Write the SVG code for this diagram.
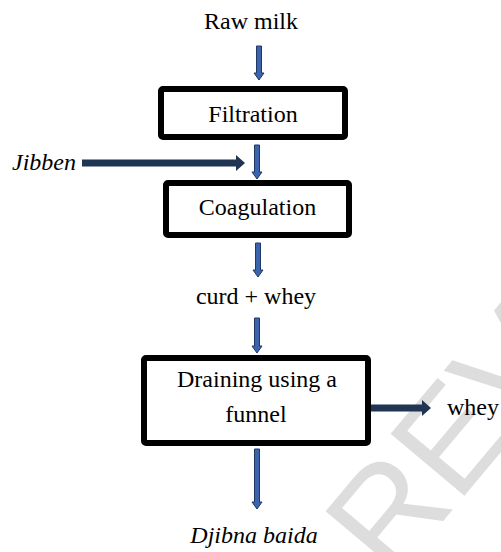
<svg xmlns="http://www.w3.org/2000/svg" width="501" height="552" viewBox="0 0 501 552">
<style>
.t{font-family:'Liberation Serif','Times New Roman','DejaVu Serif',serif;font-size:24px;fill:#000}
.i{font-style:italic}
.box{fill:#fff;stroke:#000;stroke-width:6}
.va{fill:#3b64ad;stroke:#1f3864;stroke-width:1}
.ha{fill:#1f3552}
.wm{font-family:'Liberation Sans',Arial,sans-serif;font-size:140px;fill:#dddddd}
</style>
<rect width="501" height="552" fill="#fff"/>
<text class="wm" transform="translate(392,582) rotate(-50)">REV</text>
<g id="raw-milk"><text class="t" x="251" y="29" text-anchor="middle">Raw milk</text></g>
<g id="filtration"><rect class="box" x="161" y="89" width="184" height="48" rx="2"/><text class="t" x="253" y="122" text-anchor="middle">Filtration</text></g>
<g id="jibben"><text class="t i" x="12" y="170">Jibben</text></g>
<g id="coagulation"><rect class="box" x="166" y="183" width="183" height="52" rx="2"/><text class="t" x="257.5" y="215" text-anchor="middle">Coagulation</text></g>
<g id="curd-whey"><text class="t" x="256" y="304" text-anchor="middle">curd + whey</text></g>
<g id="draining"><rect class="box" x="144" y="358" width="224" height="85" rx="2"/><text class="t" x="257" y="387" text-anchor="middle">Draining using a</text><text class="t" x="256" y="422" text-anchor="middle">funnel</text></g>
<g id="whey"><text class="t" x="447" y="415">whey</text></g>
<g id="djibna-baida"><text class="t i" x="254" y="543" text-anchor="middle">Djibna baida</text></g>
<g id="connectors">
<polygon class="va" points="256.5,46 261.5,46 261.5,73 264,73 259,80 254,73 256.5,73"/>
<polygon class="va" points="254.5,145 259.5,145 259.5,172 262,172 257,179 252,172 254.5,172"/>
<polygon class="va" points="255.5,243 260.5,243 260.5,270 263,270 258,277 253,270 255.5,270"/>
<polygon class="va" points="254.5,318 259.5,318 259.5,346 262,346 257,353 252,346 254.5,346"/>
<polygon class="va" points="254.5,449 259.5,449 259.5,502 262,502 257,509 252,502 254.5,502"/>
<polygon class="ha" points="82,159.5 236,159.5 236,155 245,163 236,171 236,166.5 82,166.5"/>
<polygon class="ha" points="371,404.5 422,404.5 422,400 431,408 422,416 422,411.5 371,411.5"/>
</g>
</svg>
